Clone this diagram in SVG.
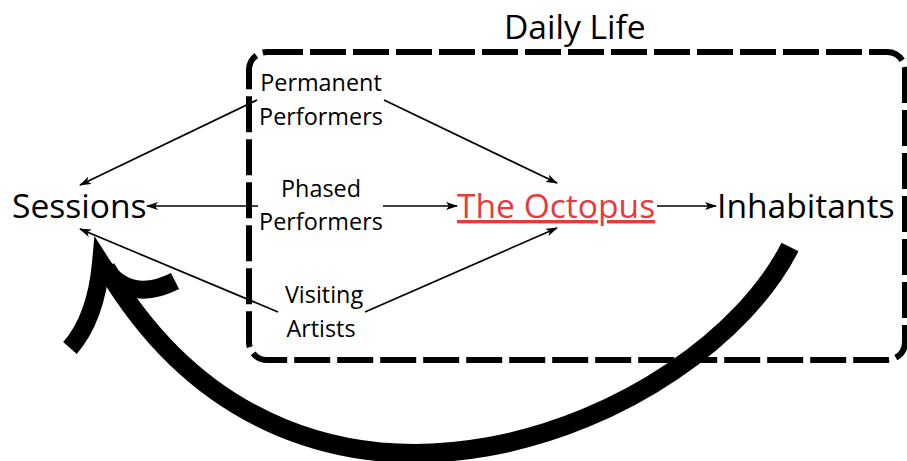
<svg xmlns="http://www.w3.org/2000/svg" width="907" height="461" viewBox="0 0 907 461">
<style>
.lbl{font-family:"Open Sans","Noto Sans",sans-serif;fill:#000}
.big{font-size:33.6px}
.sm{font-size:23.4px;text-anchor:middle}
.con{stroke:#000;stroke-width:1.7;fill:none;marker-end:url(#ah)}
</style>
<defs>
<marker id="ah" viewBox="0 0 12 8" refX="11" refY="4" markerWidth="12" markerHeight="8" markerUnits="userSpaceOnUse" orient="auto">
<path d="M0,0 L12,4 L0,8 L3,4 z" fill="#000"/>
</marker>
</defs>
<rect width="907" height="461" fill="#fff"/>
<g id="daily-life">
<rect x="249" y="52" width="656" height="308" rx="18" ry="18" fill="none" stroke="#000" stroke-width="6" stroke-dasharray="36 7"/>
<text class="lbl big" x="504" y="39">Daily Life</text>
</g>
<g id="sessions"><text class="lbl big" x="12" y="218">Sessions</text></g>
<g id="octopus"><text class="lbl big" x="457" y="218" style="fill:#e8393c" text-decoration="underline">The Octopus</text></g>
<g id="inhabitants"><text class="lbl big" x="717" y="218">Inhabitants</text></g>
<g id="permanent"><text class="lbl sm" x="321" y="91">Permanent</text><text class="lbl sm" x="321" y="125">Performers</text></g>
<g id="phased"><text class="lbl sm" x="321" y="197">Phased</text><text class="lbl sm" x="321" y="230">Performers</text></g>
<g id="visiting"><text class="lbl sm" x="324" y="303">Visiting</text><text class="lbl sm" x="321" y="337">Artists</text></g>
<g id="connectors">
<line class="con" x1="257" y1="100" x2="80" y2="185"/>
<line class="con" x1="384" y1="100" x2="557" y2="183"/>
<line class="con" x1="258" y1="206" x2="147" y2="206"/>
<line class="con" x1="383" y1="206" x2="457" y2="206"/>
<line class="con" x1="278" y1="312" x2="80" y2="229"/>
<line class="con" x1="365" y1="312" x2="557" y2="228"/>
<line class="con" x1="657" y1="206" x2="716" y2="206"/>
<path d="M790,247 C700,425 300,595 106,268" fill="none" stroke="#000" stroke-width="19"/>
<path d="M70,348 Q96,318 101,263 Q128,305 175,281" fill="none" stroke="#000" stroke-width="18" stroke-linejoin="miter" stroke-miterlimit="10"/>
</g>
</svg>
